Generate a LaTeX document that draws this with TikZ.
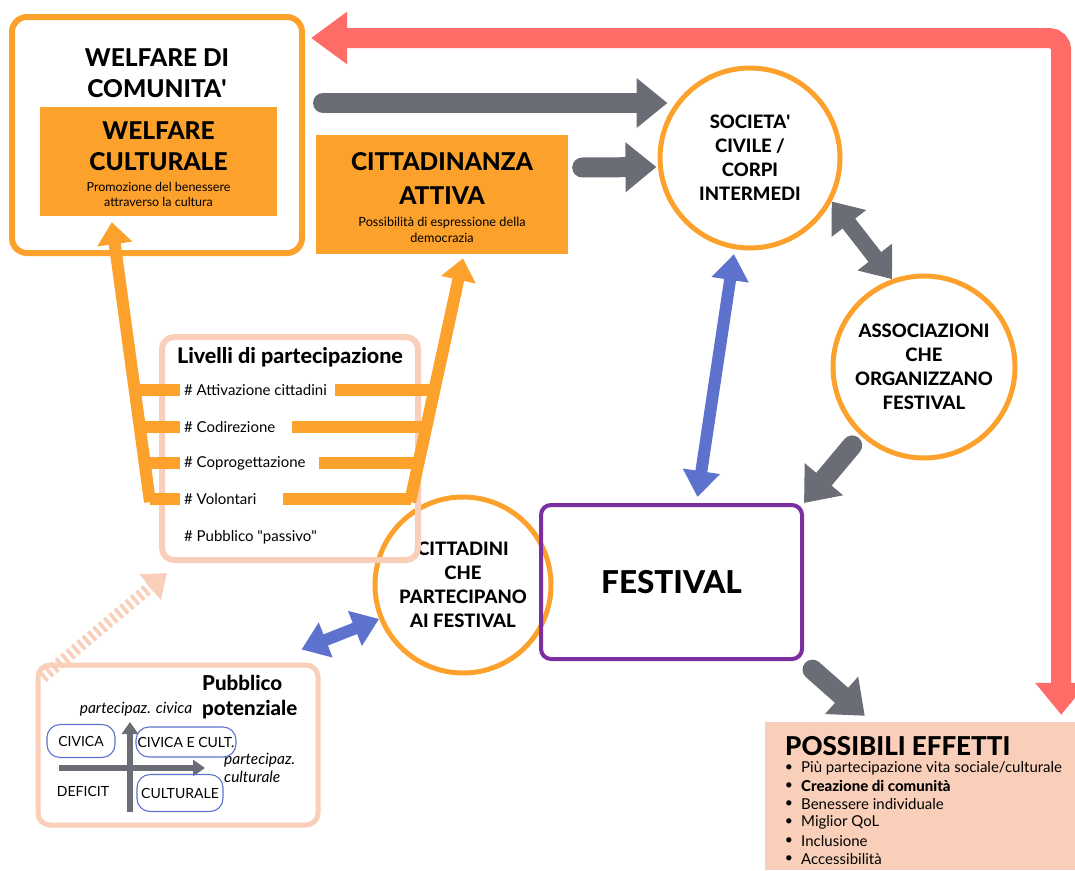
\documentclass[tikz,border=0pt]{standalone}
\usepackage{fontspec}
\setmainfont{Lato}[BoldFont={Lato Heavy}]
\usepackage{xcolor}
\usepackage{tikz}
\usetikzlibrary{arrows.meta, calc}

\definecolor{arancio}{HTML}{FCA12B}
\definecolor{pesca}{HTML}{F9CFBA}
\definecolor{rosso}{HTML}{FF6B66}
\definecolor{grigio}{HTML}{6B6D76}
\definecolor{blu}{HTML}{5C72CD}
\definecolor{viola}{HTML}{7A2EA0}

\newcommand{\fs}[2]{\fontsize{#1}{#2}\selectfont}

\begin{document}
\begin{tikzpicture}[
    x=1pt, y=-1pt,
    every node/.style={inner sep=0pt, align=center}
  ]
  \tikzset{
    cerchio/.style={circle, draw=arancio, line width=5pt, font=\bfseries\fs{18.5}{24}},
    riquadro/.style={fill=arancio},
    cornice/.style={draw=pesca, line width=6pt, rounded corners=12pt},
    pillola/.style={draw=blu, line width=1.1pt, rounded corners=13pt, font=\fs{14}{15}},
    freccia grigia/.style={draw=grigio, line width=20pt, line cap=round, -{Triangle[width=48pt,length=31pt]}},
    freccia blu/.style={draw=blu, line width=12pt, {Triangle[width=36pt,length=26pt]}-{Triangle[width=36pt,length=26pt]}},
    forcella/.style={draw=arancio, line width=12pt, -{Triangle[width=34pt,length=22pt]}},
    ramo/.style={draw=arancio, line width=12pt},
    asse/.style={draw=grigio, line width=6pt, -{Triangle[width=16pt,length=12pt]}}
  }
  \useasboundingbox (0,0) rectangle (1075,870);

  % welfare
  \node[draw=arancio, line width=6pt, rounded corners=15pt, minimum width=290pt, minimum height=236pt] (wcom) at (157,135) {};
  \node[font=\bfseries\fs{24.5}{31}] (wcomt) at (157,73) {WELFARE DI\\COMUNITA\textquotesingle};
  \node[riquadro, minimum width=237pt, minimum height=109pt] (wcult) at (158.5,161.5) {};
  \node[font=\bfseries\fs{24.5}{31}] (wcultt) at (158.5,146) {WELFARE\\CULTURALE};
  \node[font=\fs{12.5}{15}] (wcults) at (158.5,194) {Promozione del benessere\\attraverso la cultura};

  % cittadinanza
  \node[riquadro, minimum width=252pt, minimum height=119pt] (catt) at (442,194.5) {};
  \node[font=\bfseries\fs{24.5}{34}] (cattt) at (442,179) {CITTADINANZA\\ATTIVA};
  \node[font=\fs{12.7}{16}] (catts) at (442,230) {Possibilità di espressione della\\democrazia};

  % cerchi
  \node[cerchio, minimum size=180pt] (soc) at (750,158) {SOCIETA\textquotesingle\\CIVILE /\\CORPI\\INTERMEDI};
  \node[cerchio, minimum size=182pt] (assoc) at (924,367) {ASSOCIAZIONI\\CHE\\ORGANIZZANO\\FESTIVAL};
  \node[cerchio, minimum size=176pt] (cit) at (463,585) {CITTADINI\\CHE\\PARTECIPANO\\AI FESTIVAL};

  \node[draw=viola, line width=4pt, rounded corners=10pt, minimum width=261pt, minimum height=154pt, font=\bfseries\fs{31.5}{36}] (fest) at (671.5,582) {FESTIVAL};

  % livelli
  \node[cornice, minimum width=256pt, minimum height=223pt] (lvl) at (290,448.5) {};
  \node[font=\bfseries\fs{21.5}{24}] (lvlt) at (290,357) {Livelli di partecipazione};
  \foreach \n/\t/\y in {a1/Attivazione cittadini/390, a2/Codirezione/427, a3/Coprogettazione/463, a4/Volontari/499, a5/Pubblico \textquotedbl passivo\textquotedbl/537}
    \node[anchor=west, font=\fs{15}{16}] (\n) at (184,\y) {\# \t};

  \coordinate (fl) at (150,502);
  \coordinate (fr) at (410,502);
  \foreach \n/\y/\g in {a1/390/8, a2/427/16, a3/463/13, a4/499/26} {
    \pgfmathsetmacro\xl{150-(502-\y)*38/280}
    \pgfmathsetmacro\xr{410+(502-\y)*53/244}
    \draw[ramo] (\xl,\y) -- ([xshift=-4pt]\n.west);
    \draw[ramo] ([xshift=\g pt]\n.east) -- (\xr,\y);
  }
  \draw[forcella] (fl) -- ([shift={(72,6)}]wcult.south west);
  \draw[forcella] (fr) -- ([shift={(21,4)}]catt.south);

  % pubblico potenziale
  \node[cornice, line width=5pt, minimum width=280pt, minimum height=160pt] (ppot) at (178,745) {};
  \node[anchor=west, align=left, font=\bfseries\fs{20.5}{25}] (ppott) at (202,697) {Pubblico\\potenziale};
  \node[font=\itshape\fs{15.5}{15}] (pciv) at (136,709) {partecipaz. civica};
  \node[anchor=west, align=left, font=\itshape\fs{15.5}{18}] (pcul) at (224,768) {partecipaz.\\culturale};
  \draw[asse] (130,812) -- (130,722);
  \draw[asse] (59,768) -- (205,768);
  \node[pillola, minimum width=68pt, minimum height=33pt] (civ) at (81,741) {CIVICA};
  \node[pillola, minimum width=100pt, minimum height=30pt] (civcul) at (186,742) {CIVICA E CULT.};
  \node[pillola, minimum width=86pt, minimum height=37pt] (cul) at (180,793) {CULTURALE};
  \node[font=\fs{14}{15}] (def) at (83,791) {DEFICIT};

  % effetti
  \node[fill=pesca, minimum width=310pt, minimum height=148pt] (eff) at (920,796) {};
  \node[anchor=west, font=\bfseries\fs{26}{28}] (efft) at (785,746) {POSSIBILI EFFETTI};
  \foreach \i/\y/\t in {1/768/{Più partecipazione vita sociale/culturale}, 2/786/{\textbf{Creazione di comunità}}, 3/804/{Benessere individuale}, 4/822/{Miglior QoL}, 5/841/{Inclusione}, 6/859/{Accessibilità}} {
    \node[font=\fs{14}{16}] (b\i) at (789,\y) {\textbullet};
    \node[anchor=west, font=\fs{15}{16}] (e\i) at (801,\y) {\t};
  }

  % frecce
  \draw[rosso, line width=20pt, rounded corners=12pt, {Triangle[width=50pt,length=32pt]}-{Triangle[width=50pt,length=36pt]}]
    ([shift={(-14,-7)}]eff.north east) |- ([shift={(6,24)}]wcom.north east);
  \draw[freccia grigia] ([shift={(18,-32)}]wcom.east) -- ([shift={(10,-55)}]soc.west);
  \draw[freccia grigia] ([shift={(14,-27)}]catt.east) -- ([shift={(-1,9)}]soc.west);
  \draw[freccia grigia, line width=16pt, {Triangle[width=42pt,length=28pt]}-{Triangle[width=42pt,length=28pt]}] (soc.-28) -- (assoc.110);
  \draw[freccia grigia] ([shift={(-8,10)}]assoc.-133) -- (fest.north east);
  \draw[freccia grigia] ([shift={(8.5,8.6)}]fest.south east) -- ([shift={(100,-6)}]eff.north west);
  \draw[freccia blu] ([yshift=-5pt]soc.-100) -- ([shift={(26,-6)}]fest.north);
  \draw[freccia blu] ([shift={(-19,-13)}]ppot.north east) -- (cit.202);
  \draw[pesca, line width=12pt, dash pattern=on 3.5pt off 3.5pt, -{Triangle[width=32pt,length=22pt]}]
    ([shift={(7,15)}]ppot.north west) -- ([shift={(8,10)}]lvl.south west);
\end{tikzpicture}
\end{document}
